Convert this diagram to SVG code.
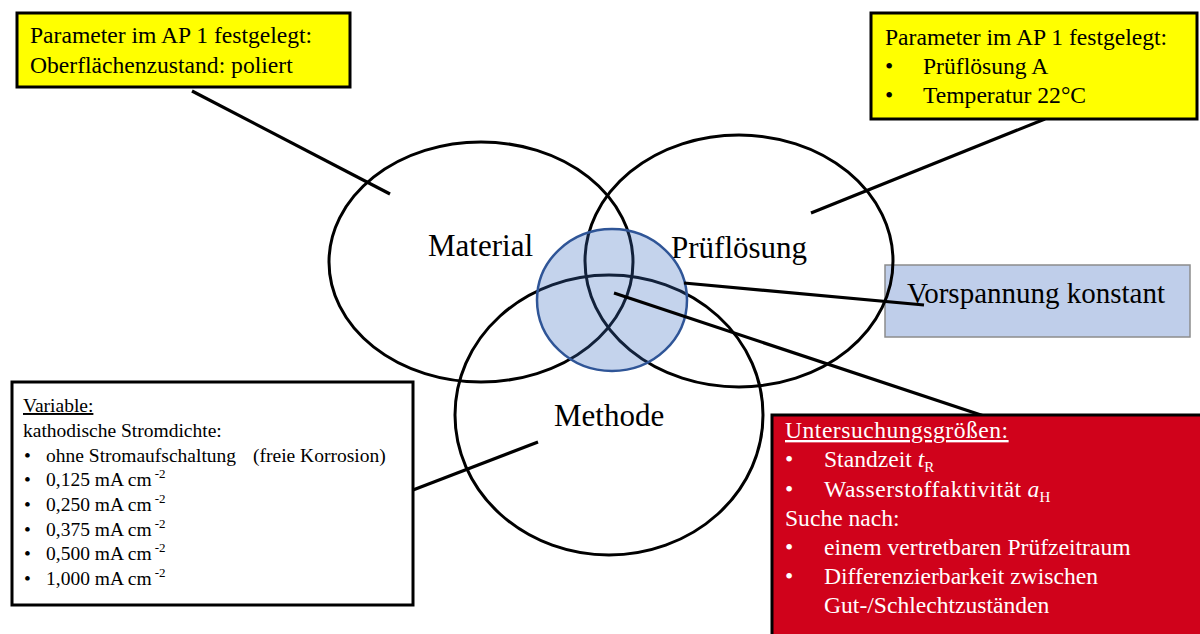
<svg xmlns="http://www.w3.org/2000/svg" width="1200" height="634" viewBox="0 0 1200 634">
<style>
text{font-family:"Liberation Serif","Times New Roman",serif;fill:#000}
.big{font-size:31px}
.vs{font-size:29px}
.box{font-size:23.6px}
.small{font-size:19.5px}
.sup{font-size:13px}
.wt{fill:#fff}
.ring{fill:none;stroke:#000;stroke-width:3}
.conn{stroke:#000;stroke-width:3.2;fill:none}
.frame{stroke:#000;stroke-width:3}
</style>
<rect width="1200" height="634" fill="#fff"/>
<g id="vorspannung">
<rect x="885" y="265" width="305" height="72" fill="#BFCEEA" stroke="#8C8C8C" stroke-width="1.5"/>
<text class="vs" x="907" y="303" font-family="Liberation Serif, Times New Roman, serif">Vorspannung konstant</text>
</g>
<g id="material">
<ellipse class="ring" cx="481" cy="262" rx="152" ry="120"/>
<text class="big" x="428" y="256">Material</text>
</g>
<g id="pruefloesung">
<ellipse class="ring" cx="739" cy="261" rx="154" ry="126"/>
<text class="big" x="671" y="258">Prüflösung</text>
</g>
<g id="methode">
<ellipse class="ring" cx="609" cy="415" rx="154" ry="140"/>
<text class="big" x="554" y="426">Methode</text>
</g>
<g id="schnittmenge">
<ellipse cx="612" cy="300" rx="75" ry="71" fill="#3D6CC0" fill-opacity="0.3" stroke="#2F5597" stroke-width="2.5"/>
</g>
<g id="connectors">
<line class="conn" x1="192" y1="91" x2="390" y2="194"/>
<line class="conn" x1="1045" y1="119" x2="811" y2="213"/>
<line class="conn" x1="413" y1="490" x2="538" y2="442"/>
<line class="conn" x1="684" y1="283" x2="924" y2="305"/>
<line class="conn" x1="614" y1="293" x2="984" y2="416"/>
</g>
<g id="box-material">
<rect class="frame" x="17" y="13" width="333" height="74" fill="#FFFF00"/>
<text class="box" x="30" y="43">Parameter im AP 1 festgelegt:</text>
<text class="box" x="30" y="73">Oberflächenzustand: poliert</text>
</g>
<g id="box-pruefloesung">
<rect class="frame" x="871" y="13" width="326" height="106" fill="#FFFF00"/>
<text class="box" x="885" y="45">Parameter im AP 1 festgelegt:</text>
<text class="box" x="885" y="74">•</text>
<text class="box" x="923" y="74">Prüflösung A</text>
<text class="box" x="885" y="103">•</text>
<text class="box" x="923" y="103">Temperatur 22°C</text>
</g>
<g id="box-variable">
<rect class="frame" x="12" y="382" width="401" height="223" fill="#fff"/>
<text class="small" x="23" y="412" text-decoration="underline">Variable: </text>
<text class="small" x="23" y="437">kathodische Stromdichte:</text>
<text class="small" x="24" y="462">•</text>
<text class="small" x="46" y="462">ohne Stromaufschaltung</text>
<text class="small" x="253" y="462">(freie Korrosion)</text>
<text class="small" x="24" y="486">•</text>
<text class="small" x="46" y="486">0,125 mA cm<tspan class="sup" dx="3" dy="-8">-2</tspan></text>
<text class="small" x="24" y="511">•</text>
<text class="small" x="46" y="511">0,250 mA cm<tspan class="sup" dx="3" dy="-8">-2</tspan></text>
<text class="small" x="24" y="536">•</text>
<text class="small" x="46" y="536">0,375 mA cm<tspan class="sup" dx="3" dy="-8">-2</tspan></text>
<text class="small" x="24" y="560">•</text>
<text class="small" x="46" y="560">0,500 mA cm<tspan class="sup" dx="3" dy="-8">-2</tspan></text>
<text class="small" x="24" y="585">•</text>
<text class="small" x="46" y="585">1,000 mA cm<tspan class="sup" dx="3" dy="-8">-2</tspan></text>
</g>
<g id="box-untersuchung">
<rect class="frame" x="772" y="415" width="440" height="240" fill="#D0021B"/>
<text class="box wt" x="785" y="438" text-decoration="underline" letter-spacing="0.5">Untersuchungsgrößen:</text>
<text class="box wt" x="785" y="467">•</text>
<text class="box wt" x="824" y="467">Standzeit <tspan font-style="italic">t</tspan><tspan font-size="15" dy="5">R</tspan></text>
<text class="box wt" x="785" y="497">•</text>
<text class="box wt" x="824" y="497"><tspan letter-spacing="0.5">Wasserstoffaktivität</tspan> <tspan font-style="italic">a</tspan><tspan font-size="15" dy="5">H</tspan></text>
<text class="box wt" x="785" y="526">Suche nach:</text>
<text class="box wt" x="785" y="555">•</text>
<text class="box wt" x="824" y="555">einem vertretbaren Prüfzeitraum</text>
<text class="box wt" x="785" y="584">•</text>
<text class="box wt" x="824" y="584">Differenzierbarkeit zwischen</text>
<text class="box wt" x="824" y="613">Gut-/Schlechtzuständen</text>
</g>
</svg>
